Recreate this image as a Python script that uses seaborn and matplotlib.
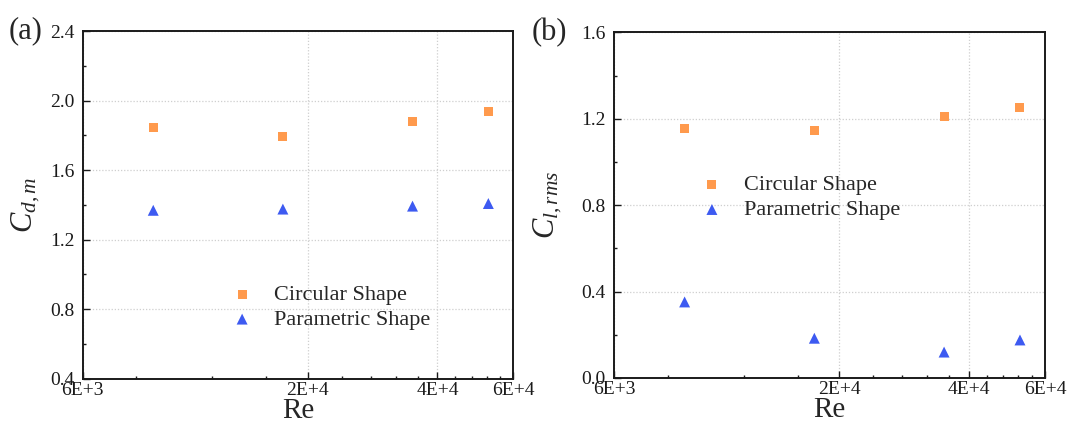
import matplotlib
matplotlib.use("Agg")
import matplotlib.pyplot as plt
import matplotlib.ticker as mticker
import pandas as pd
import seaborn as sns

# Reynolds numbers of the four runs
re_values = [8750, 17500, 35000, 52500]

# (a) mean drag coefficient
cd_circular = [1.845, 1.793, 1.881, 1.937]
cd_parametric = [1.369, 1.376, 1.393, 1.408]

# (b) rms lift coefficient
cl_circular = [1.154, 1.144, 1.209, 1.251]
cl_parametric = [0.352, 0.184, 0.120, 0.176]

series_names = ["Circular Shape", "Parametric Shape"]
x_major = [6000, 20000, 40000, 60000]
x_major_labels = ["6E+3", "2E+4", "4E+4", "6E+4"]
x_minor = [8000, 12000, 16000, 24000, 28000, 32000, 36000, 44000, 48000, 52000, 56000]

ORANGE = "#FF9A4D"
BLUE = "#3D5AF1"

sns.set_theme(style="white")
plt.rcParams["font.family"] = ["Liberation Serif", "DejaVu Serif"]
plt.rcParams["mathtext.fontset"] = "custom"
plt.rcParams["mathtext.rm"] = "Liberation Serif"
plt.rcParams["mathtext.it"] = "Liberation Serif:italic"


def make_frame(circ, para):
    return pd.DataFrame({
        "Re": re_values * 2,
        "value": circ + para,
        "shape": [series_names[0]] * len(circ) + [series_names[1]] * len(para),
    })


def draw_panel(ax, df, ylim, ystep, ylabel, tag, tag_x, legend_anchor, ylabel_x):
    circ = df[df["shape"] == series_names[0]]
    para = df[df["shape"] == series_names[1]]
    sns.scatterplot(data=circ, x="Re", y="value", marker="s", s=42, color=ORANGE,
                    edgecolor="none", label=series_names[0], ax=ax)
    sns.scatterplot(data=para, x="Re", y="value", marker="^", s=62, color=BLUE,
                    edgecolor="none", label=series_names[1], ax=ax)

    ax.set_xscale("log")
    ax.set_xlim(6000, 60000)
    ax.xaxis.set_major_locator(mticker.FixedLocator(x_major))
    ax.xaxis.set_major_formatter(mticker.FixedFormatter(x_major_labels))
    ax.xaxis.set_minor_locator(mticker.FixedLocator(x_minor))
    ax.xaxis.set_minor_formatter(mticker.NullFormatter())

    ax.set_ylim(*ylim)
    ax.yaxis.set_major_locator(mticker.MultipleLocator(ystep))
    ax.yaxis.set_minor_locator(mticker.MultipleLocator(ystep / 2))
    ax.yaxis.set_major_formatter(mticker.FormatStrFormatter("%.1f"))

    ax.grid(True, which="major", color="#cfcfcf", linestyle=(0, (1, 1.5)), linewidth=0.9)
    for sp in ax.spines.values():
        sp.set_color("#1a1a1a")
        sp.set_linewidth(1.4)

    ax.tick_params(axis="both", which="both", direction="in", colors="#1a1a1a",
                   labelsize=14, bottom=True, left=True, top=False, right=False)
    ax.tick_params(axis="both", which="major", length=5, width=1.0)
    ax.tick_params(axis="both", which="minor", length=2.5, width=1.0)
    ax.tick_params(axis="x", which="major", pad=2.5)
    ax.tick_params(axis="y", which="major", pad=6)

    ax.set_xlabel("Re", fontsize=21, labelpad=-1)
    ax.set_ylabel(ylabel, fontsize=22)
    ax.yaxis.set_label_coords(ylabel_x, 0.5)

    ax.legend(loc="center left", bbox_to_anchor=legend_anchor, frameon=False,
              fontsize=16, handlelength=1.0, handletextpad=0.95, labelspacing=0.2,
              borderpad=0.4)

    ax.text(tag_x, 1.0, tag, transform=ax.transAxes, fontsize=22,
            ha="left", va="center")


fig = plt.figure(figsize=(10.71, 4.29), dpi=100)
ax_a = fig.add_axes([0.0772, 0.1170, 0.4021, 0.8107])
ax_b = fig.add_axes([0.5733, 0.1189, 0.4024, 0.8058])

draw_panel(ax_a, make_frame(cd_circular, cd_parametric), (0.4, 2.4), 0.4,
           r"$C_{d,m}$", "(a)", -0.172, (0.298, 0.206), -0.095)
draw_panel(ax_b, make_frame(cl_circular, cl_parametric), (0.0, 1.6), 0.4,
           r"$C_{l,rms}$", "(b)", -0.19, (0.155, 0.522), -0.115)

fig.savefig("out.png", dpi=100)
